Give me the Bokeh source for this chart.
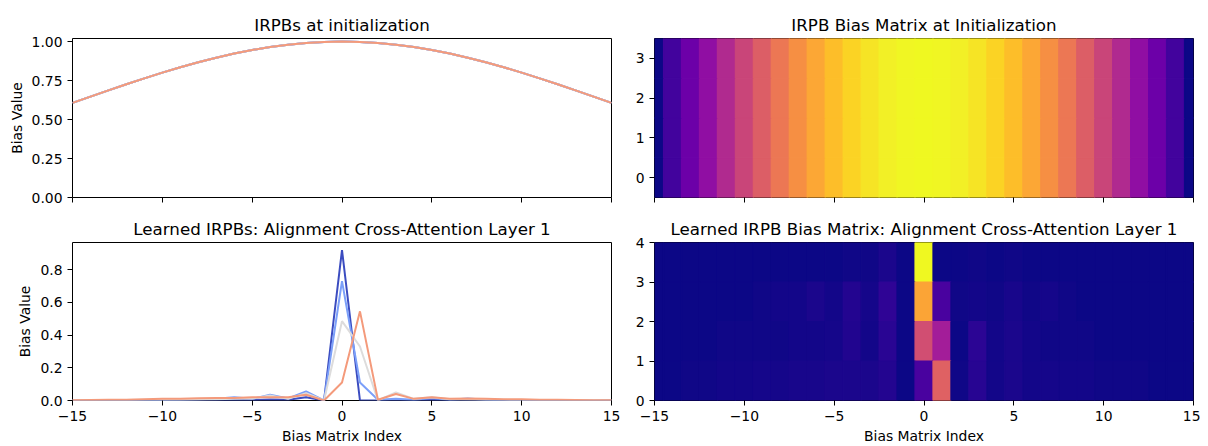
import numpy as np
from bokeh.plotting import figure
from bokeh.models import (ColumnDataSource, FixedTicker, NumeralTickFormatter,
                          CustomJSTickFormatter, Range1d)
from bokeh.transform import linear_cmap
from bokeh.palettes import Plasma256
from bokeh.layouts import row, column
from bokeh.embed import file_html
from bokeh.resources import INLINE

# ---------------- data ----------------
bias_index = list(range(-15, 16))

init_bias = [0.6065, 0.6470, 0.6869, 0.7261, 0.7642, 0.8007, 0.8353, 0.8674,
             0.8968, 0.9231, 0.9460, 0.9651, 0.9802, 0.9911, 0.9978, 1.0000,
             0.9978, 0.9911, 0.9802, 0.9651, 0.9460, 0.9231, 0.8968, 0.8674,
             0.8353, 0.8007, 0.7642, 0.7261, 0.6869, 0.6470, 0.6065]

learned_head0 = [0.0, 0.0, 0.0, 0.0, 0.0, 0.001, 0.001, 0.002, 0.002, 0.003,
                 0.003, 0.006, 0.004, 0.020, 0.0, 0.920, 0.0, 0.0, 0.004, 0.0,
                 0.004, 0.001, 0.001, 0.0, 0.0, 0.0, 0.0, 0.0, 0.0, 0.0, 0.0]
learned_head1 = [0.0, 0.001, 0.001, 0.002, 0.002, 0.003, 0.005, 0.008, 0.010, 0.020,
                 0.010, 0.035, 0.012, 0.055, 0.0, 0.730, 0.110, 0.005, 0.010, 0.005,
                 0.015, 0.005, 0.012, 0.004, 0.002, 0.001, 0.001, 0.0, 0.0, 0.0, 0.0]
learned_head2 = [0.001, 0.001, 0.002, 0.003, 0.004, 0.005, 0.005, 0.006, 0.008, 0.010,
                 0.012, 0.030, 0.010, 0.045, 0.0, 0.485, 0.330, 0.0, 0.050, 0.010,
                 0.020, 0.008, 0.006, 0.005, 0.004, 0.003, 0.002, 0.002, 0.001, 0.001, 0.0]
learned_head3 = [0.002, 0.003, 0.004, 0.005, 0.008, 0.010, 0.011, 0.013, 0.015, 0.015,
                 0.020, 0.020, 0.020, 0.035, 0.0, 0.110, 0.545, 0.005, 0.040, 0.010,
                 0.020, 0.010, 0.012, 0.010, 0.008, 0.007, 0.005, 0.004, 0.003, 0.002, 0.001]

learned_heads = [learned_head0, learned_head1, learned_head2, learned_head3]
head_colors = ["#3b4cc0", "#7b9ff9", "#dddcdc", "#f49a7b"]

x_ticks = [-15, -10, -5, 0, 5, 10, 15]

FONT = "DejaVu Sans"
TICK_FS = "13.9px"
TITLE_FS = "16.7px"

minus_fmt = "return tick < 0 ? '\u2212' + (-tick) : String(tick);"


def style(p, show_xlabels):
    p.outline_line_color = "black"
    p.outline_line_width = 1
    p.outline_line_alpha = 1
    p.xgrid.visible = False
    p.ygrid.visible = False
    p.background_fill_color = "white"
    p.border_fill_color = "white"
    p.title.align = "center"
    p.title.text_font = FONT
    p.title.text_font_size = TITLE_FS
    p.title.text_font_style = "normal"
    p.title.text_color = "black"
    p.title.standoff = 8
    for ax in p.axis:
        ax.axis_line_color = None
        ax.major_tick_line_color = "black"
        ax.major_tick_line_width = 1
        ax.major_tick_out = 5
        ax.major_tick_in = 0
        ax.minor_tick_line_color = None
        ax.major_label_text_font = FONT
        ax.major_label_text_font_size = TICK_FS
        ax.major_label_text_color = "black"
        ax.axis_label_text_font = FONT
        ax.axis_label_text_font_size = TICK_FS
        ax.axis_label_text_font_style = "normal"
        ax.axis_label_text_color = "black"
        ax.axis_label_standoff = 4
    p.xaxis.ticker = FixedTicker(ticks=x_ticks)
    p.yaxis.major_label_standoff = 5
    if show_xlabels:
        p.xaxis.formatter = CustomJSTickFormatter(code=minus_fmt)
        p.xaxis.major_label_standoff = 5
    else:
        p.xaxis.formatter = CustomJSTickFormatter(code="return '';")
        p.xaxis.major_label_text_font_size = "1px"
        p.xaxis.major_label_standoff = 0


LW, RW = 632, 568
TH, BH = 212, 234

# ---------------- top-left: initial IRPBs ----------------
p1 = figure(width=LW, height=TH, output_backend="svg", toolbar_location=None,
            x_range=Range1d(-15, 15), y_range=Range1d(0, 1.0197),
            title="IRPBs at initialization",
            min_border_left=72, min_border_right=21, min_border_top=38, min_border_bottom=15)
for h in range(4):
    p1.line(bias_index, init_bias, line_color=head_colors[h], line_width=2)
style(p1, False)
p1.yaxis.ticker = FixedTicker(ticks=[0, 0.25, 0.5, 0.75, 1.0])
p1.yaxis.formatter = NumeralTickFormatter(format="0.00")
p1.yaxis.axis_label = "Bias Value"

# ---------------- top-right: initial bias matrix ----------------
init_src = ColumnDataSource(dict(
    x=[i for r in range(4) for i in bias_index],
    y=[r for r in range(4) for _ in bias_index],
    v=[v for r in range(4) for v in init_bias],
))
init_map = linear_cmap("v", Plasma256, low=min(init_bias), high=max(init_bias))
p2 = figure(width=RW, height=TH, output_backend="svg", toolbar_location=None,
            x_range=Range1d(-15, 15), y_range=Range1d(-0.5, 3.5),
            title="IRPB Bias Matrix at Initialization",
            min_border_left=22, min_border_right=7, min_border_top=38, min_border_bottom=15)
p2.rect(x="x", y="y", width=1, height=1, source=init_src,
        fill_color=init_map, line_color=init_map, line_width=1.2)
style(p2, False)
p2.yaxis.ticker = FixedTicker(ticks=[0, 1, 2, 3])

# ---------------- bottom-left: learned IRPBs ----------------
p3 = figure(width=LW, height=BH, output_backend="svg", toolbar_location=None,
            x_range=Range1d(-15, 15), y_range=Range1d(0, 0.966),
            title="Learned IRPBs: Alignment Cross-Attention Layer 1",
            min_border_left=72, min_border_right=21, min_border_top=29, min_border_bottom=46)
for h in range(4):
    p3.line(bias_index, learned_heads[h], line_color=head_colors[h], line_width=2)
style(p3, True)
p3.yaxis.ticker = FixedTicker(ticks=[0, 0.2, 0.4, 0.6, 0.8])
p3.yaxis.formatter = NumeralTickFormatter(format="0.0")
p3.yaxis.axis_label = "Bias Value"
p3.xaxis.axis_label = "Bias Matrix Index"

# ---------------- bottom-right: learned bias matrix ----------------
all_learned = [v for hv in learned_heads for v in hv]
learned_src = ColumnDataSource(dict(
    x=[i for h in range(4) for i in bias_index],
    y=[3.5 - h for h in range(4) for _ in bias_index],
    v=all_learned,
))
learned_map = linear_cmap("v", Plasma256, low=min(all_learned), high=max(all_learned))
p4 = figure(width=RW, height=BH, output_backend="svg", toolbar_location=None,
            x_range=Range1d(-15, 15), y_range=Range1d(0, 4),
            title="Learned IRPB Bias Matrix: Alignment Cross-Attention Layer 1",
            min_border_left=22, min_border_right=7, min_border_top=29, min_border_bottom=46)
p4.rect(x="x", y="y", width=1, height=1, source=learned_src,
        fill_color=learned_map, line_color=learned_map, line_width=1.2)
style(p4, True)
p4.yaxis.ticker = FixedTicker(ticks=[0, 1, 2, 3, 4])
p4.xaxis.axis_label = "Bias Matrix Index"

layout = column(row(p1, p2), row(p3, p4))
open("out.html", "w").write(file_html(layout, INLINE))
